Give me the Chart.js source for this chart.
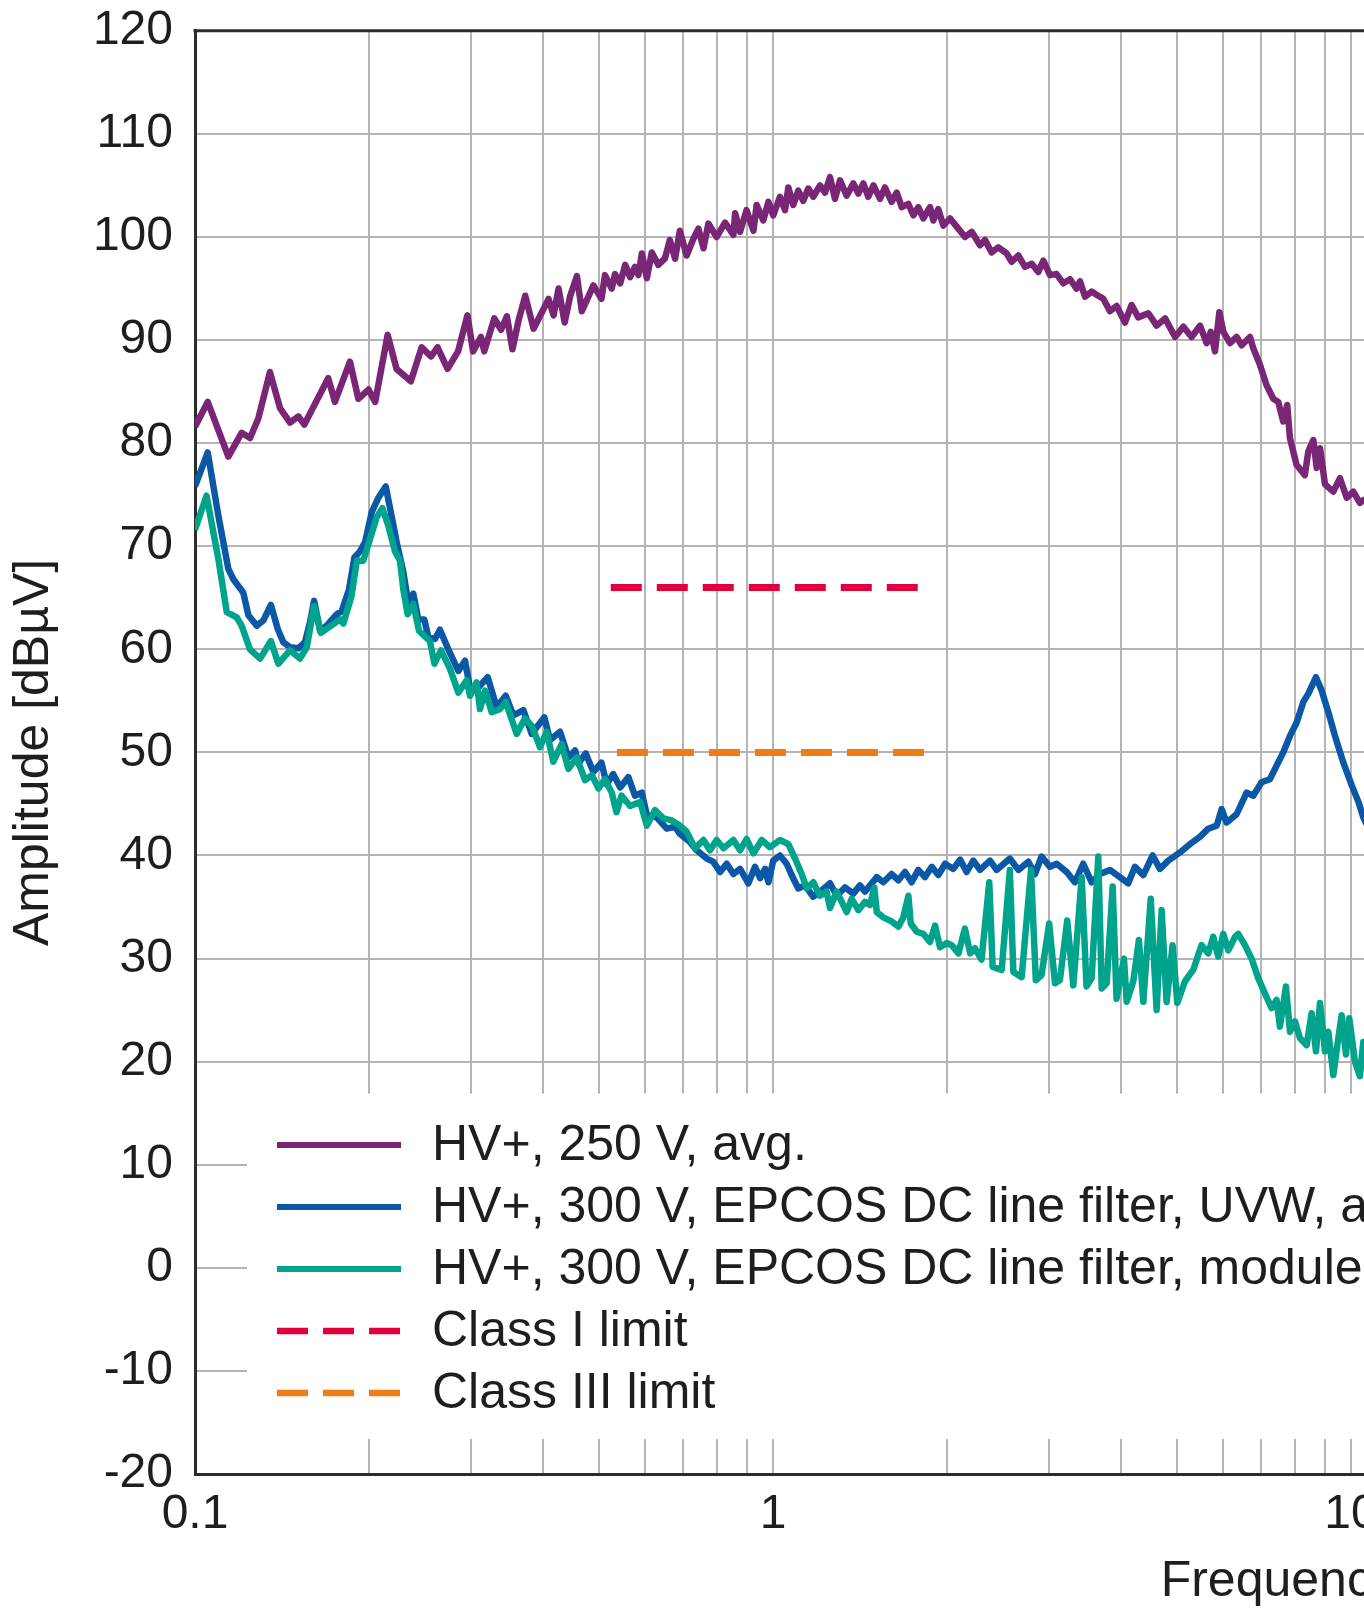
<!DOCTYPE html>
<html>
<head>
<meta charset="utf-8">
<script src="https://cdn.jsdelivr.net/npm/chart.js@4.4.1/dist/chart.umd.min.js"></script>
<style>
  html, body { margin: 0; padding: 0; background: #fff; overflow: hidden; }
  #wrap { width: 2600px; height: 1632px; margin-top: -20px; }
  #chart { display: block; }
</style>
</head>
<body>
<div id="wrap"><canvas id="chart" width="2600" height="1632"></canvas></div>
<script>
// frequencies in MHz, levels in dBµV
const purpleFreq = [
  0.1, 0.1052, 0.1142, 0.1204, 0.1245, 0.1287, 0.1348, 0.1403, 0.146, 0.151, 0.1546, 0.17, 0.1746, 0.1854, 0.1917,
  0.1996, 0.205, 0.2154, 0.2232, 0.2363, 0.2467, 0.256, 0.2628, 0.2735, 0.2852, 0.296, 0.3028, 0.3124, 0.3165, 0.3295,
  0.3385, 0.3464, 0.3542, 0.3629, 0.3727, 0.3853, 0.3983, 0.409, 0.4172, 0.4256, 0.436, 0.4459, 0.4579, 0.467, 0.489,
  0.505, 0.512, 0.526, 0.533, 0.544, 0.555, 0.566, 0.577, 0.585, 0.593, 0.605, 0.617, 0.633, 0.65, 0.663,
  0.677, 0.69, 0.709, 0.728, 0.743, 0.758, 0.773, 0.799, 0.826, 0.854, 0.86, 0.877, 0.9, 0.925, 0.937,
  0.962, 0.982, 1.001, 1.028, 1.049, 1.063, 1.084, 1.106, 1.128, 1.151, 1.174, 1.206, 1.23, 1.255, 1.28,
  1.306, 1.341, 1.377, 1.405, 1.433, 1.462, 1.492, 1.532, 1.562, 1.604, 1.637, 1.67, 1.715, 1.749, 1.784,
  1.82, 1.869, 1.894, 1.932, 1.971, 2.024, 2.079, 2.149, 2.207,
  2.281, 2.327, 2.389, 2.454, 2.537, 2.588, 2.657, 2.729, 2.803, 2.877, 2.936, 3.015, 3.095, 3.179, 3.264,
  3.351, 3.397, 3.466, 3.559, 3.629, 3.728, 3.828, 3.931, 4.064, 4.173, 4.285, 4.46, 4.61, 4.768, 4.962,
  5.13, 5.3, 5.48, 5.627, 5.72, 5.817, 5.919, 6.014, 6.176, 6.342, 6.469, 6.687, 6.776, 6.958, 7.145,
  7.338, 7.485, 7.633, 7.756, 7.84, 8.05, 8.32, 8.437, 8.607, 8.722, 8.839, 9.016, 9.32, 9.57, 9.83,
  10.09, 10.36, 10.53, 10.9, 11.3
]
const purpleLevel = [
  81.6, 84.0, 78.7, 81.0, 80.5, 82.4, 86.9, 83.4, 82.0, 82.6, 81.8, 86.3, 84.0, 87.9, 84.3,
  85.2, 84.0, 90.5, 87.2, 86.0, 89.3, 88.4, 89.3, 87.2, 88.9, 92.4, 88.9, 90.3, 88.9, 92.1,
  91.0, 92.3, 89.1, 91.9, 94.3, 91.1, 92.7, 94.0, 92.4, 95.0, 91.7, 94.3, 96.2, 92.8, 95.3,
  94.0, 96.3, 95.0, 96.4, 95.5, 97.3, 96.1, 97.1, 96.3, 98.4, 96.0, 98.5, 97.3, 97.9, 99.7,
  97.9, 100.6, 98.2, 99.8, 100.8, 98.9, 101.3, 100.0, 101.4, 100.2, 102.3, 100.5, 102.6, 100.6, 103.1,
  101.6, 103.4, 102.1, 103.9, 102.6, 104.8, 103.1, 104.5, 103.5, 104.7, 103.9, 105.0, 104.3, 105.8, 103.7,
  105.5, 104.0, 105.2, 104.2, 105.2, 103.9, 105.0, 103.7, 104.8, 103.4, 104.3, 102.9, 103.2, 102.1, 102.9,
  101.8, 102.9, 101.6, 102.7, 101.1, 101.8, 101.0, 100.0, 100.5,
  99.2, 99.7, 98.5, 99.0, 98.4, 97.6, 98.2, 97.1, 97.4, 96.6, 97.7, 96.3, 96.4, 95.5, 95.9,
  95.0, 95.7, 94.2, 94.7, 94.4, 94.0, 92.8, 93.3, 91.7, 93.4, 92.2, 92.6, 91.4, 92.1, 90.3,
  91.3, 90.3, 91.4, 89.7, 90.8, 88.9, 92.7, 90.8, 89.7, 90.3, 89.5, 90.3, 89.2, 87.6, 85.6,
  84.3, 84.0, 82.1, 83.7, 80.5, 77.9, 76.9, 79.2, 80.3, 77.6, 79.5, 76.0, 75.3, 76.6, 74.7,
  75.3, 74.2, 74.5, 73.8, 73.2
]

const blueFreq = [
  0.1, 0.1052, 0.1098, 0.1142, 0.1165, 0.1212, 0.1237, 0.1279, 0.1313, 0.1353,
  0.139, 0.1421, 0.146, 0.1509, 0.155, 0.1581, 0.1607, 0.1646, 0.169, 0.1759,
  0.1794, 0.1847, 0.1887, 0.193, 0.1969, 0.2022, 0.2076, 0.2138, 0.2189, 0.2233,
  0.2293, 0.2339, 0.2386, 0.2434, 0.2493, 0.2533, 0.2601, 0.2653, 0.2743, 0.2855,
  0.2932, 0.2991, 0.3092, 0.3209, 0.3325, 0.3448, 0.3554, 0.3699, 0.3824, 0.4022,
  0.4114, 0.4281, 0.4426, 0.4545, 0.4606, 0.4742, 0.489, 0.505, 0.5155, 0.529,
  0.544, 0.562, 0.577, 0.593, 0.605, 0.629, 0.655, 0.677, 0.69, 0.7185,
  0.738, 0.768, 0.788, 0.81, 0.8315, 0.854, 0.877, 0.9065, 0.931, 0.95,
  0.969, 0.982, 1.001, 1.028, 1.056, 1.077, 1.106, 1.136, 1.174, 1.214,
  1.255, 1.289, 1.332, 1.377, 1.414, 1.443, 1.512, 1.552, 1.604, 1.648,
  1.692, 1.737, 1.784, 1.832, 1.882, 1.932, 1.985, 2.051, 2.107, 2.163,
  2.221, 2.281, 2.374, 2.437, 2.569, 2.658, 2.765, 2.839, 2.915, 3.014,
  3.096, 3.222, 3.329, 3.441, 3.559, 3.679, 3.827, 3.982, 4.117, 4.229,
  4.372, 4.537, 4.671, 4.829, 5.059, 5.263, 5.478, 5.663, 5.857, 5.973,
  6.093, 6.339, 6.598, 6.775, 7.002, 7.238, 7.434, 7.634, 7.841, 8.053,
  8.27, 8.437, 8.698, 8.896, 9.136, 9.382, 9.7, 10.03, 10.3, 10.5,
  10.8, 11.2
]
const blueLevel = [
  75.8, 79.1, 72.9, 67.8, 66.8, 65.5, 63.3, 62.3, 62.8, 64.3,
  62.0, 60.7, 60.2, 60.1, 60.7, 62.6, 64.7, 61.8, 62.3, 63.4,
  63.7, 65.8, 68.9, 69.5, 70.4, 73.3, 74.7, 75.8, 72.9, 70.4,
  67.5, 64.5, 65.4, 62.9, 62.9, 61.2, 61.0, 61.9, 60.0, 57.9,
  58.9, 56.2, 56.3, 57.3, 54.4, 55.5, 53.6, 54.1, 51.8, 53.4,
  51.2, 52.0, 49.5, 50.2, 48.9, 49.9, 48.1, 49.0, 46.9, 47.9,
  46.6, 47.6, 45.8, 46.1, 43.9, 43.7, 42.6, 42.8, 42.1, 41.3,
  40.5, 39.7, 39.4, 38.4, 39.2, 38.2, 38.7, 37.3, 38.9, 37.8,
  38.7, 37.4, 39.5, 40.0, 39.2, 38.1, 36.8, 37.1, 36.0, 36.6,
  37.3, 36.1, 36.9, 36.3, 37.1, 36.5, 37.9, 37.4, 38.2, 37.6,
  38.4, 37.4, 38.6, 37.9, 38.9, 38.1, 39.2, 38.7, 39.6, 38.4,
  39.5, 38.6, 39.5, 38.6, 39.7, 38.6, 39.4, 38.2, 39.9, 38.9,
  39.2, 38.4, 37.4, 39.2, 37.4, 38.2, 38.6, 37.9, 37.3, 38.9,
  38.1, 40.0, 38.7, 39.5, 40.3, 41.1, 41.8, 42.6, 42.9, 44.5,
  43.2, 44.0, 46.1, 45.8, 47.1, 47.4, 48.7, 50.0, 51.6, 52.9,
  54.9, 55.7, 57.3, 56.0, 53.9, 51.6, 49.0, 46.8, 45.2, 43.7,
  42.3, 40.8
]

const tealFreq = [
  0.1, 0.1047, 0.1098, 0.1135, 0.1181, 0.1204, 0.1245, 0.1296, 0.1353, 0.1394,
  0.146, 0.1519, 0.1561, 0.1607, 0.1652, 0.1701, 0.1782, 0.1806, 0.1866, 0.1905,
  0.1955, 0.2008, 0.2062, 0.2109, 0.216, 0.2218, 0.2263, 0.2293, 0.2333, 0.2386,
  0.2441, 0.2493, 0.255, 0.2595, 0.2665, 0.2762, 0.2855, 0.2951, 0.2991, 0.3071,
  0.3112, 0.3175, 0.3261, 0.3371, 0.3448, 0.3602, 0.3723, 0.3824, 0.3953, 0.4059,
  0.4168, 0.4309, 0.4426, 0.4575, 0.4729, 0.486, 0.499, 0.512, 0.526, 0.536,
  0.547, 0.566, 0.589, 0.605, 0.625, 0.646, 0.668, 0.69, 0.709, 0.733,
  0.758, 0.778, 0.799, 0.821, 0.854, 0.877, 0.9, 0.925, 0.956, 0.988,
  1.028, 1.063, 1.092, 1.121, 1.144, 1.174, 1.206, 1.238, 1.255, 1.289,
  1.315, 1.341, 1.368, 1.405, 1.443, 1.472, 1.497, 1.512, 1.552, 1.604,
  1.648, 1.681, 1.715, 1.731, 1.773, 1.82, 1.869, 1.907, 1.945, 1.998,
  2.038, 2.093, 2.148, 2.193, 2.236, 2.295, 2.367, 2.399, 2.487, 2.569,
  2.605, 2.693, 2.795, 2.849, 2.915, 3.005, 3.075, 3.136, 3.229, 3.308,
  3.42, 3.487, 3.559, 3.654, 3.704, 3.779, 3.869, 3.93, 4.048, 4.092,
  4.201, 4.296, 4.372, 4.503, 4.61, 4.703, 4.797, 4.913, 5.006, 5.162,
  5.334, 5.513, 5.663, 5.776, 5.893, 6.012, 6.133, 6.299, 6.381, 6.554,
  6.73, 6.91, 7.099, 7.289, 7.434, 7.535, 7.717, 7.841, 7.999, 8.16,
  8.381, 8.549, 8.698, 8.837, 9.016, 9.136, 9.321, 9.47, 9.635, 9.802,
  9.932, 10.16, 10.36, 10.5, 10.8, 11.2
]
const tealLevel = [
  71.6, 74.9, 68.7, 63.6, 63.1, 62.3, 60.0, 59.1, 60.8, 58.6,
  59.9, 59.1, 60.2, 64.2, 61.6, 62.1, 62.9, 62.5, 65.2, 68.6,
  68.6, 70.7, 72.8, 73.7, 72.0, 69.5, 68.6, 65.8, 63.4, 64.4,
  61.8, 61.3, 60.8, 58.6, 59.9, 58.1, 55.8, 57.0, 55.5, 56.8,
  54.2, 56.0, 53.9, 54.2, 54.9, 51.8, 53.3, 52.6, 50.5, 52.0,
  49.1, 50.8, 48.4, 49.5, 47.3, 47.8, 46.5, 47.4, 46.1, 44.2,
  45.8, 44.8, 45.2, 42.9, 44.4, 43.6, 43.4, 42.9, 42.3, 40.7,
  41.5, 40.5, 41.5, 40.7, 41.5, 40.5, 41.6, 40.2, 41.5, 40.8,
  41.5, 41.1, 39.7, 38.2, 36.8, 37.4, 36.1, 36.5, 34.9, 36.5,
  35.5, 34.5, 35.8, 34.7, 35.5, 35.2, 36.9, 34.5, 34.0, 33.6,
  33.1, 34.0, 36.1, 33.4, 32.6, 32.4, 31.6, 33.2, 31.1, 31.5,
  31.3, 30.5, 32.9, 30.5, 31.0, 29.9, 37.4, 29.2, 28.9, 38.6,
  28.7, 28.2, 38.6, 27.9, 28.4, 33.4, 27.6, 27.9, 33.7, 27.4,
  37.9, 27.3, 28.1, 39.9, 27.1, 27.6, 37.0, 26.1, 30.0, 25.8,
  27.8, 31.8, 25.8, 35.8, 25.0, 34.7, 25.8, 31.3, 25.7, 27.8,
  28.9, 31.3, 30.5, 32.1, 30.2, 32.4, 30.8, 32.1, 32.4, 31.3,
  30.0, 28.1, 26.6, 25.2, 26.0, 23.4, 27.3, 22.9, 23.9, 22.3,
  21.6, 24.7, 21.0, 25.7, 21.0, 22.9, 18.7, 21.6, 24.5, 20.7,
  24.2, 20.0, 18.6, 21.9, 19.8, 21.0
]

// limit lines (start / end of the band)
const classIFreq = [0.524, 1.807]
const classILevel = [66, 66]
const classIIIFreq = [0.537, 1.832]
const classIIILevel = [50, 50]

const seriesLabels = [
  'HV+, 250 V, avg.',
  'HV+, 300 V, EPCOS DC line filter, UVW, avg.',
  'HV+, 300 V, EPCOS DC line filter, module, avg.',
  'Class I limit',
  'Class III limit',
]

const xGridValues = [
  0.1, 0.2, 0.3, 0.4, 0.5, 0.6, 0.7, 0.8, 0.9,
  1, 2, 3, 4, 5, 6, 7, 8, 9,
  10, 20, 30, 40, 50, 60, 70, 80, 90,
  100, 200, 300, 400, 500, 600, 700, 800, 900, 1000,
]
const xLabelValues = [0.1, 1, 10, 100, 1000]
const xTickLabels = ['0.1', '1', '10', '100', '1000']

const COLORS = {
  purple: '#7a2676',
  blue: '#0a58a6',
  teal: '#00a48c',
  red: '#e2003c',
  orange: '#ef7d14',
}
const GRID = '#b4b4b4'
const AXIS = '#2c2c2c'
const TEXT = '#1e1e1e'
const FONT = "'Liberation Sans', Arial, Helvetica, sans-serif"

const pts = (fs, ls) => fs.map((x, i) => ({ x, y: ls[i] }))

// white patch behind the legend + the top frame line
const legendBox = {
  id: 'legendBox',
  beforeDatasetsDraw(chart) {
    const { ctx, chartArea, scales: { x, y } } = chart
    const left = x.getPixelForValue(0.123)
    const top = y.getPixelForValue(16.9)
    const bottom = y.getPixelForValue(-16.6)
    ctx.save()
    ctx.fillStyle = '#fff'
    ctx.fillRect(left, top, chartArea.right - left + 4, bottom - top)
    ctx.strokeStyle = AXIS
    ctx.lineWidth = 3
    ctx.beginPath()
    ctx.moveTo(chartArea.left - 1.5, chartArea.top)
    ctx.lineTo(chartArea.right, chartArea.top)
    ctx.stroke()
    ctx.restore()
  },
  afterDatasetsDraw(chart) {
    const { ctx } = chart
    ctx.save()
    ctx.font = '50px ' + FONT
    ctx.textBaseline = 'middle'
    ctx.textAlign = 'left'
    chart.data.datasets.forEach((ds, i) => {
      const yy = 1165 + i * 62
      ctx.strokeStyle = ds.borderColor
      ctx.lineWidth = ds.borderWidth - 0.5
      ctx.lineCap = 'butt'
      ctx.setLineDash(ds.borderDash || [])
      ctx.beginPath()
      ctx.moveTo(277, yy)
      ctx.lineTo(401, yy)
      ctx.stroke()
      ctx.setLineDash([])
      ctx.fillStyle = TEXT
      ctx.fillText(ds.label, 432, yy + 1)
    })
    ctx.restore()
  },
}

new Chart(document.getElementById('chart'), {
  type: 'line',
  data: {
    datasets: [
      { label: seriesLabels[0], data: pts(purpleFreq, purpleLevel), borderColor: COLORS.purple, borderWidth: 6.5, order: 2 },
      { label: seriesLabels[1], data: pts(blueFreq, blueLevel), borderColor: COLORS.blue, borderWidth: 6.5, order: 1 },
      { label: seriesLabels[2], data: pts(tealFreq, tealLevel), borderColor: COLORS.teal, borderWidth: 6.5, order: 0 },
      { label: seriesLabels[3], data: pts(classIFreq, classILevel), borderColor: COLORS.red, borderWidth: 7, borderDash: [31, 15], borderCapStyle: 'butt', order: 0 },
      { label: seriesLabels[4], data: pts(classIIIFreq, classIIILevel), borderColor: COLORS.orange, borderWidth: 7, borderDash: [31, 15], borderCapStyle: 'butt', order: 0 },
    ],
  },
  options: {
    responsive: false,
    animation: false,
    devicePixelRatio: 1,
    layout: { padding: { top: 0, right: 93, bottom: 0, left: 0 } },
    elements: {
      point: { radius: 0 },
      line: { tension: 0, borderJoinStyle: 'round', fill: false },
    },
    plugins: {
      legend: { display: false },
      tooltip: { enabled: false },
    },
    scales: {
      x: {
        type: 'logarithmic',
        min: 0.1,
        max: 1000,
        afterBuildTicks: (s) => { s.ticks = xGridValues.map((v) => ({ value: v })) },
        afterFit: (s) => { s.height = 138 },
        grid: { color: GRID, lineWidth: 2, drawTicks: false },
        border: { color: AXIS, width: 3 },
        ticks: {
          autoSkip: false,
          maxRotation: 0,
          padding: 12,
          color: TEXT,
          font: { size: 48, family: FONT },
          callback: (v) => {
            const i = xLabelValues.indexOf(v)
            return i >= 0 ? xTickLabels[i] : ''
          },
        },
        title: { display: true, text: 'Frequency [MHz]', color: TEXT, font: { size: 50, family: FONT }, padding: 0 },
      },
      y: {
        min: -20,
        max: 120,
        afterFit: (s) => { s.width = 195 },
        grid: { color: GRID, lineWidth: 2, drawTicks: false },
        border: { color: AXIS, width: 3 },
        ticks: { stepSize: 10, padding: 22, color: TEXT, font: { size: 48, family: FONT } },
        title: { display: true, text: 'Amplitude [dBµV]', color: TEXT, font: { size: 50, family: FONT }, padding: { top: 4, bottom: 0 } },
      },
    },
  },
  plugins: [legendBox],
})
</script>
</body>
</html>
